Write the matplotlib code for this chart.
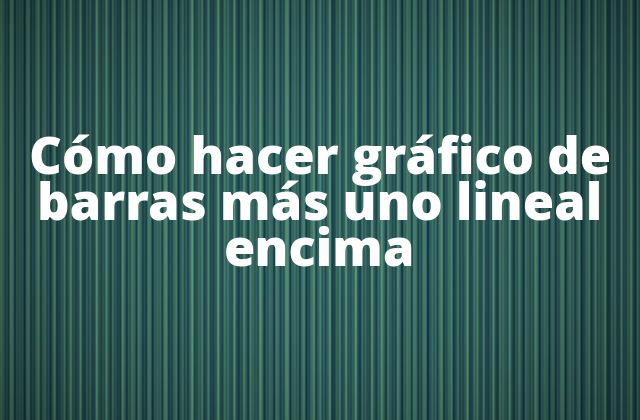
import numpy as np
import matplotlib
matplotlib.use("Agg")
import matplotlib.pyplot as plt

title_lines = ["Cómo hacer gráfico de", "barras más uno lineal", "encima"]
baseline_y_px = [174, 220, 266]  # text baselines (pixels from top)

W, H = 640, 420
fig = plt.figure(figsize=(6.4, 4.2), dpi=100)
ax = fig.add_axes([0, 0, 1, 1])
ax.set_xlim(0, W)
ax.set_ylim(H, 0)
ax.axis("off")

# corrugated-metal background texture
x = np.arange(W)
y = np.arange(H)
rib = (np.sin(2 * np.pi * x / 8.6)
       + 0.6 * np.sin(2 * np.pi * x / 5.3 + 0.7)
       + 0.45 * np.sin(2 * np.pi * x / 3.2 + 1.3)
       + 0.35 * np.sin(2 * np.pi * x / 13.7 + 2.1)
       + 0.25 * np.sin(2 * np.pi * x / 31.0))
rib = (rib - rib.min()) / (rib.max() - rib.min())
rib = rib ** 1.1
dark = np.array([0x12, 0x36, 0x44]) / 255
light = np.array([0x5c, 0x96, 0x78]) / 255
img = dark[None, None, :] + (light - dark)[None, None, :] * rib[None, :, None]
img = np.repeat(img, H, axis=0)
# vignette
xx, yy = np.meshgrid((x - W / 2) / (W / 2), (y - H / 2) / (H / 2))
vig = 1.06 - 0.32 * (xx ** 2 * 0.8 + yy ** 2 * 0.5)
img = np.clip(img * vig[:, :, None], 0, 1)
ax.imshow(img, extent=(0, W, H, 0), aspect="auto", interpolation="bilinear")

for line, yp in zip(title_lines, baseline_y_px):
    ax.text(W / 2, yp, line, ha="center", va="baseline", color="white",
            fontsize=36.5, fontweight=800, family=["Open Sans", "DejaVu Sans"])

fig.savefig("out.png", dpi=100)
